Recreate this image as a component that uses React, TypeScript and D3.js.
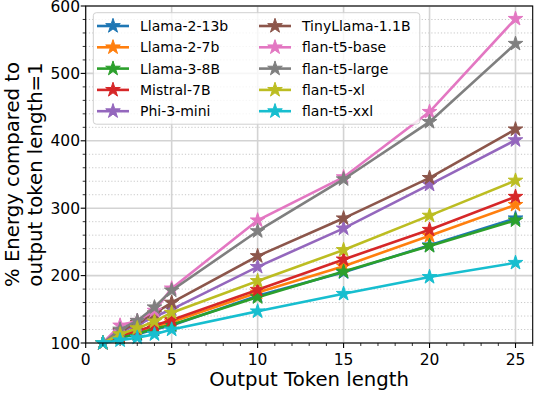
import React from "react";
import * as d3 from "d3";

const tokenLengths = [1, 2, 3, 4, 5, 10, 15, 20, 25];
const modelNames = [
  "Llama-2-13b", "Llama-2-7b", "Llama-3-8B", "Mistral-7B", "Phi-3-mini",
  "TinyLlama-1.1B", "flan-t5-base", "flan-t5-large", "flan-t5-xl", "flan-t5-xxl",
];
const llama213b = [100, 108, 113, 120, 126, 170, 205, 245, 285];
const llama27b = [100, 110, 117, 124, 131, 175, 214, 259, 305];
const llama38b = [100, 108, 114, 121, 127, 168, 206, 244, 282];
const mistral7b = [100, 111, 118, 126, 134, 179, 224, 268, 317];
const phi3mini = [100, 116, 127, 139, 150, 213, 270, 335, 401];
const tinyLlama = [100, 118, 130, 144, 160, 229, 285, 345, 417];
const flanBase = [100, 126, 133, 148, 181, 282, 346, 443, 581];
const flanLarge = [100, 120, 133, 153, 178, 266, 343, 428, 544];
const flanXl = [100, 113, 122, 132, 145, 192, 238, 289, 341];
const flanXxl = [100, 104, 108, 113, 120, 147, 173, 198, 219];
const seriesValues = [llama213b, llama27b, llama38b, mistral7b, phi3mini, tinyLlama, flanBase, flanLarge, flanXl, flanXxl];
const colors = ["#1f77b4", "#ff7f0e", "#2ca02c", "#d62728", "#9467bd", "#8c564b", "#e377c2", "#7f7f7f", "#bcbd22", "#17becf"];
const xTicks = [0, 5, 10, 15, 20, 25];
const yTicks = [100, 200, 300, 400, 500, 600];

const W = 536, H = 393;
const font = "DejaVu Sans, sans-serif";

export default function App() {
  const x = d3.scaleLinear().domain([0, 26]).range([85.7, 532.7]);
  const y = d3.scaleLinear().domain([100, 600]).range([343, 6]);
  const line = d3.line<number>().x((d, i) => x(tokenLengths[i])).y(d => y(d));
  const star = d3.symbol().type(d3.symbolStar).size(66)();
  const xMinor = d3.range(0, 27, 1).filter(v => v % 5 !== 0);
  const yMinor = d3.range(100, 601, 20).filter(v => v % 100 !== 0);
  const [x0, x1] = x.range();
  const [y0, y1] = y.range();

  return (
    <svg width={W} height={H} style={{ position: "absolute", left: 0, top: 0, background: "#fff" }} fontFamily={font}>
      {/* minor dotted grid */}
      {yMinor.map(v => (
        <line key={"ym" + v} x1={x0} x2={x1} y1={y(v)} y2={y(v)} stroke="#c8c8c8" strokeWidth={1} strokeDasharray="1.2,2" />
      ))}
      {/* major grid */}
      {yTicks.map(v => (
        <line key={"yg" + v} x1={x0} x2={x1} y1={y(v)} y2={y(v)} stroke="#d3d3d3" strokeWidth={1.6} />
      ))}
      {xTicks.map(v => (
        <line key={"xg" + v} x1={x(v)} x2={x(v)} y1={y0} y2={y1} stroke="#d3d3d3" strokeWidth={1.6} />
      ))}

      {seriesValues.map((vals, s) => (
        <g key={modelNames[s]}>
          <path d={line(vals) || ""} fill="none" stroke={colors[s]} strokeWidth={2.6} />
          {vals.map((v, i) => (
            <path key={i} d={star || ""} transform={`translate(${x(tokenLengths[i])},${y(v)})`} fill={colors[s]} stroke={colors[s]} strokeWidth={1} />
          ))}
        </g>
      ))}

      {/* spines */}
      <rect x={x0} y={y1} width={x1 - x0} height={y0 - y1} fill="none" stroke="#000" strokeWidth={1.1} />

      {/* ticks */}
      {xTicks.map(v => (
        <g key={"xt" + v}>
          <line x1={x(v)} x2={x(v)} y1={y0} y2={y0 + 5} stroke="#000" strokeWidth={1.1} />
          <text x={x(v)} y={365} textAnchor="middle" fontSize={15.5}>{v}</text>
        </g>
      ))}
      {xMinor.map(v => (
        <line key={"xm" + v} x1={x(v)} x2={x(v)} y1={y0} y2={y0 + 3} stroke="#000" strokeWidth={0.8} />
      ))}
      {yTicks.map(v => (
        <g key={"yt" + v}>
          <line x1={x0 - 5} x2={x0} y1={y(v)} y2={y(v)} stroke="#000" strokeWidth={1.1} />
          <text x={80} y={y(v)} dy="0.36em" textAnchor="end" fontSize={15.5}>{v}</text>
        </g>
      ))}
      {yMinor.map(v => (
        <line key={"ymt" + v} x1={x0 - 3} x2={x0} y1={y(v)} y2={y(v)} stroke="#000" strokeWidth={0.8} />
      ))}

      {/* axis titles */}
      <text x={(x0 + x1) / 2 - 0} y={386} textAnchor="middle" fontSize={19.7}>Output Token length</text>
      <g transform={`translate(18.5,${(y0 + y1) / 2}) rotate(-90)`}>
        <text x={0} y={0} textAnchor="middle" fontSize={19.7}>% Energy compared to</text>
        <text x={0} y={23.4} textAnchor="middle" fontSize={19.7}>output token length=1</text>
      </g>

      {/* legend */}
      <rect x={93.3} y={12.7} width={326.5} height={111.5} rx={3} fill="#fff" fillOpacity={0.8} stroke="#d0d0d0" strokeWidth={1} />
      {modelNames.map((name, s) => {
        const col = Math.floor(s / 5);
        const row = s % 5;
        const lx = 97 + col * 162;
        const ly = 26 + row * 21.3;
        return (
          <g key={"lg" + name}>
            <line x1={lx} x2={lx + 32} y1={ly} y2={ly} stroke={colors[s]} strokeWidth={2.6} />
            <path d={star || ""} transform={`translate(${lx + 16},${ly})`} fill={colors[s]} stroke={colors[s]} strokeWidth={1} />
            <text x={lx + 43} y={ly} dy="0.36em" fontSize={14}>{name}</text>
          </g>
        );
      })}
    </svg>
  );
}
